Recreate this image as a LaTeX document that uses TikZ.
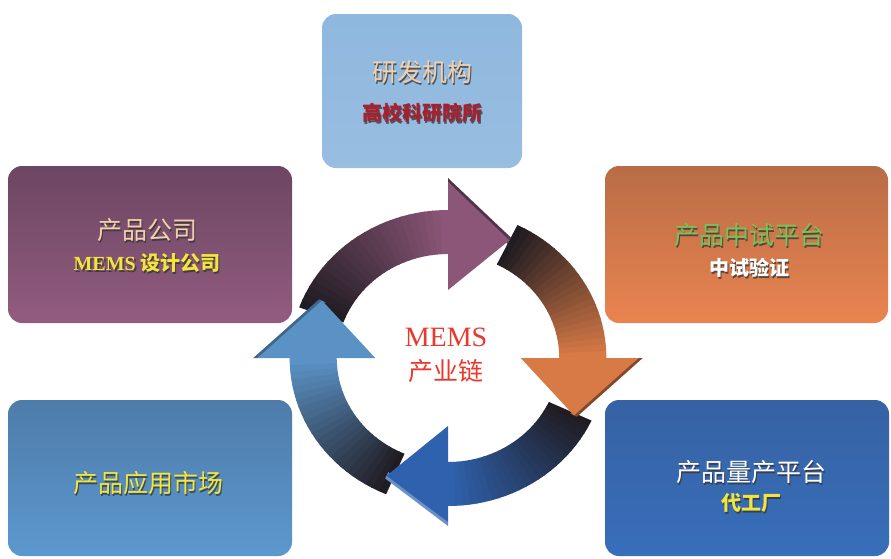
\documentclass[tikz,border=0pt]{standalone}
\usepackage{fontspec}
\setmainfont{Liberation Serif}
\newfontfamily\cjk{Noto Sans CJK SC}
\definecolor{topc}{RGB}{143,184,222}
\definecolor{purT}{RGB}{108,70,98}
\definecolor{purB}{RGB}{146,92,128}
\definecolor{orT}{RGB}{184,108,70}
\definecolor{orB}{RGB}{234,132,80}
\definecolor{blT}{RGB}{78,124,170}
\definecolor{blB}{RGB}{92,152,206}
\definecolor{dbT}{RGB}{54,98,164}
\definecolor{dbB}{RGB}{56,110,186}
\definecolor{peach}{RGB}{243,208,172}
\definecolor{yel}{RGB}{242,230,60}
\definecolor{grn}{RGB}{116,196,88}
\definecolor{dred}{RGB}{170,30,45}
\definecolor{cred}{RGB}{232,57,46}
\definecolor{aPur}{RGB}{139,86,119}
\definecolor{aOr}{RGB}{216,122,69}
\definecolor{aDb}{RGB}{46,98,174}
\definecolor{aLb}{RGB}{90,146,198}
\definecolor{aDark}{RGB}{32,28,34}
\tikzset{
  box/.style={rounded corners=14pt, inner sep=0pt, shading=axis, shading angle=0},
  shd/.style={text=black!80, opacity=0.75, xshift=1.6pt, yshift=-1.6pt},
  bigt/.style={font=\cjk\fontsize{25}{30}\selectfont},
  smt/.style={font=\cjk\bfseries\fontsize{20}{24}\selectfont},
}
\newcommand\ringarrow[4]{% tail angle, base angle, head color, tail color
  \foreach \i in {0,...,23}{
    \pgfmathsetmacro\aa{#1-(#1-(#2))*\i/24}
    \pgfmathsetmacro\ab{#1-(#1-(#2))*(\i+1)/24-0.5}
    \pgfmathtruncatemacro\pc{100*\i/23}
    \fill[#3!\pc!#4] (\aa:104) -- (\aa:148) arc[start angle=\aa, end angle=\ab, radius=148]
      -- (\ab:104) arc[start angle=\ab, end angle=\aa, radius=104] -- cycle;
  }
}
\newcommand\ringhead[4]{% base angle, color, side color, outer radius
  \pgfmathsetmacro\tp{#1-26}
  \pgfmathsetmacro\ro{#4+4}
  \fill[#3] (#1:\ro) -- (\tp:134) -- (\tp:127) -- (#1:#4) -- cycle;
  \fill[#2] (#1:68) -- (#1:#4) -- (\tp:131) -- cycle;
}
\begin{document}
\begin{tikzpicture}[x=1pt,y=-1pt]
\useasboundingbox (0,0) rectangle (891,558);
\fill[white] (0,0) rectangle (891,558);
% boxes
\node[box, top color=topc, bottom color=topc!92!white, minimum width=200pt, minimum height=154pt] (rd) at (422,91) {};
\node[box, top color=purT, bottom color=purB, minimum width=284pt, minimum height=157pt] (pc) at (150,244.5) {};
\node[box, top color=orT, bottom color=orB, minimum width=283pt, minimum height=157pt] (pt) at (746.5,244.5) {};
\node[box, top color=blT, bottom color=blB, minimum width=284pt, minimum height=156pt] (mk) at (150,478) {};
\node[box, top color=dbT, bottom color=dbB, minimum width=284pt, minimum height=156pt] (mp) at (747,478) {};
% ring arrows
\begin{scope}[shift={(448,358)}, yscale=-1, xscale=1.07]
  \ringarrow{160}{90}{aPur}{aDark}
  \ringarrow{64}{0}{aOr}{aDark}
  \ringarrow{-25}{-90}{aDb}{aDark}
  \ringarrow{-113}{-180}{aLb}{aDark}
  \ringhead{90}{aPur}{aPur!60!black}{176}
  \ringhead{0}{aOr}{aOr!60!black}{178}
  \ringhead{-90}{aDb}{aDb!70!white}{164}
  \ringhead{-180}{aLb}{aLb!70!black}{178}
\end{scope}
% texts
\node[shd, bigt] (t1s) at (422,72) {研发机构};
\node[text=peach, bigt] (t1) at (422,72) {研发机构};
\node[shd, smt] (t2s) at (422,113) {高校科研院所};
\node[text=dred, smt] (t2) at (422,113) {高校科研院所};
\node[shd, bigt] (p1s) at (147,230) {产品公司};
\node[text=peach, bigt] (p1) at (147,230) {产品公司};
\node[shd, smt] (p2s) at (147,263) {{\rmfamily\bfseries MEMS} 设计公司};
\node[text=yel, smt] (p2) at (147,263) {{\rmfamily\bfseries MEMS} 设计公司};
\node[shd, bigt] (o1s) at (749,235) {产品中试平台};
\node[text=grn, bigt] (o1) at (749,235) {产品中试平台};
\node[shd, smt] (o2s) at (749,268) {中试验证};
\node[text=white, smt] (o2) at (749,268) {中试验证};
\node[shd, bigt] (m1s) at (148,483) {产品应用市场};
\node[text=yel, bigt] (m1) at (148,483) {产品应用市场};
\node[shd, bigt] (q1s) at (751,472) {产品量产平台};
\node[text=white, bigt] (q1) at (751,472) {产品量产平台};
\node[shd, smt] (q2s) at (751,503) {代工厂};
\node[text=yel, smt] (q2) at (751,503) {代工厂};
% center
\node[text=cred, font=\fontsize{28}{32}\selectfont] (c1) at (446,337) {MEMS};
\node[text=cred, font=\cjk\fontsize{25}{30}\selectfont] (c2) at (446,371) {产业链};
\end{tikzpicture}
\end{document}
